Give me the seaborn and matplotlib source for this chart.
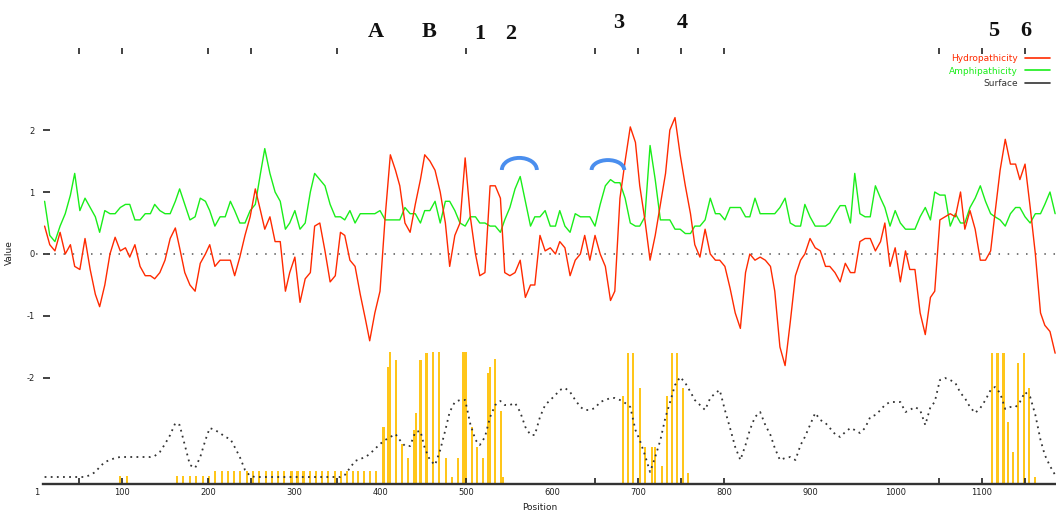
import numpy as np
import pandas as pd
import matplotlib
matplotlib.use("Agg")
import matplotlib.pyplot as plt
import matplotlib.transforms as mtransforms
import seaborn as sns
from matplotlib.lines import Line2D
from matplotlib.patches import Arc
from matplotlib.ticker import FixedLocator

# ---------------- data ----------------
residue = [10, 16, 22, 28, 34, 40, 45, 51, 57, 63,
           69, 74, 80, 86, 92, 98, 104, 109, 115, 121,
           127, 133, 138, 144, 150, 156, 162, 167, 173, 179,
           185, 191, 197, 202, 208, 214, 220, 226, 231, 237,
           243, 249, 255, 261, 266, 272, 278, 284, 290, 295,
           301, 307, 313, 319, 324, 330, 336, 342, 348, 354,
           359, 365, 371, 377, 383, 388, 394, 400, 406, 412,
           418, 423, 429, 435, 441, 447, 452, 458, 464, 470,
           476, 481, 487, 493, 499, 505, 511, 516, 522, 528,
           534, 540, 545, 551, 557, 563, 569, 575, 580, 586,
           592, 598, 604, 609, 615, 621, 627, 633, 638, 644,
           650, 656, 662, 668, 673, 679, 685, 691, 697, 702,
           708, 714, 720, 726, 732, 737, 743, 749, 755, 761,
           766, 772, 778, 784, 790, 795, 801, 807, 813, 819,
           825, 830, 836, 842, 848, 854, 859, 865, 871, 877,
           883, 889, 894, 900, 906, 912, 918, 923, 929, 935,
           941, 947, 952, 958, 964, 970, 976, 982, 987, 993,
           999, 1005, 1011, 1016, 1022, 1028, 1034, 1040, 1045, 1051,
           1057, 1063, 1069, 1075, 1080, 1086, 1092, 1098, 1104, 1110,
           1115, 1121, 1127, 1133, 1139, 1144, 1150, 1156, 1162, 1168,
           1173, 1179, 1185]

hydropathicity = [0.45, 0.15, 0.05, 0.35, 0.0, 0.15, -0.2, -0.25, 0.25, -0.25,
                  -0.65, -0.85, -0.5, 0.0, 0.27, 0.05, 0.1, -0.05, 0.15, -0.2,
                  -0.35, -0.35, -0.4, -0.3, -0.1, 0.25, 0.42, 0.1, -0.3, -0.5,
                  -0.6, -0.15, 0.0, 0.15, -0.2, -0.1, -0.1, -0.1, -0.35, -0.05,
                  0.3, 0.6, 1.05, 0.7, 0.4, 0.6, 0.2, 0.2, -0.6, -0.3,
                  -0.05, -0.78, -0.4, -0.3, 0.45, 0.5, 0.05, -0.45, -0.35, 0.35,
                  0.3, -0.1, -0.2, -0.65, -1.05, -1.4, -0.95, -0.6, 0.6, 1.6,
                  1.35, 1.1, 0.5, 0.35, 0.8, 1.2, 1.6, 1.5, 1.35, 1.0,
                  0.5, -0.2, 0.3, 0.5, 1.55, 0.6, 0.0, -0.35, -0.3, 1.1,
                  1.1, 0.9, -0.3, -0.35, -0.3, -0.1, -0.7, -0.5, -0.5, 0.3,
                  0.05, 0.1, 0.0, 0.2, 0.1, -0.35, -0.1, 0.0, 0.3, -0.1,
                  0.3, 0.0, -0.2, -0.75, -0.6, 0.9, 1.5, 2.05, 1.8, 1.1,
                  0.55, -0.1, 0.3, 0.8, 1.3, 2.0, 2.2, 1.6, 1.1, 0.65,
                  0.15, -0.05, 0.4, 0.0, -0.1, -0.1, -0.2, -0.55, -0.95, -1.2,
                  -0.3, 0.0, -0.1, -0.05, -0.1, -0.2, -0.6, -1.5, -1.8, -1.1,
                  -0.35, -0.1, 0.0, 0.25, 0.1, 0.05, -0.2, -0.2, -0.3, -0.45,
                  -0.15, -0.3, -0.3, 0.2, 0.25, 0.25, 0.05, 0.2, 0.5, -0.2,
                  0.1, -0.45, 0.05, -0.25, -0.25, -0.95, -1.3, -0.7, -0.6, 0.55,
                  0.6, 0.65, 0.6, 1.0, 0.4, 0.7, 0.4, -0.1, -0.1, 0.05,
                  0.65, 1.35, 1.85, 1.45, 1.45, 1.2, 1.45, 0.75, 0.0, -0.95,
                  -1.15, -1.25, -1.6]

amphipathicity = [0.85, 0.3, 0.2, 0.45, 0.65, 0.95, 1.3, 0.7, 0.9, 0.75,
                  0.6, 0.35, 0.7, 0.65, 0.65, 0.75, 0.8, 0.8, 0.55, 0.55,
                  0.65, 0.65, 0.8, 0.7, 0.65, 0.65, 0.85, 1.05, 0.8, 0.55,
                  0.6, 0.9, 0.85, 0.7, 0.45, 0.6, 0.6, 0.85, 0.7, 0.5,
                  0.5, 0.7, 0.8, 1.3, 1.7, 1.3, 1.0, 0.85, 0.4, 0.5,
                  0.7, 0.4, 0.5, 1.0, 1.3, 1.2, 1.1, 0.8, 0.6, 0.6,
                  0.55, 0.7, 0.5, 0.65, 0.65, 0.65, 0.65, 0.7, 0.55, 0.55,
                  0.55, 0.55, 0.75, 0.65, 0.65, 0.5, 0.7, 0.7, 0.85, 0.5,
                  0.85, 0.85, 0.7, 0.5, 0.45, 0.6, 0.6, 0.5, 0.5, 0.45,
                  0.45, 0.35, 0.55, 0.75, 1.05, 1.25, 0.85, 0.45, 0.6, 0.6,
                  0.7, 0.45, 0.45, 0.7, 0.45, 0.35, 0.65, 0.6, 0.6, 0.6,
                  0.45, 0.8, 1.1, 1.2, 1.15, 1.15, 0.9, 0.5, 0.45, 0.45,
                  0.6, 1.75, 1.2, 0.55, 0.55, 0.55, 0.4, 0.4, 0.33, 0.33,
                  0.45, 0.45, 0.55, 0.9, 0.65, 0.65, 0.55, 0.75, 0.75, 0.75,
                  0.6, 0.6, 0.9, 0.65, 0.65, 0.65, 0.65, 0.75, 0.9, 0.5,
                  0.45, 0.45, 0.8, 0.6, 0.45, 0.45, 0.45, 0.5, 0.65, 0.78,
                  0.78, 0.5, 1.3, 0.65, 0.6, 0.6, 1.1, 0.9, 0.75, 0.45,
                  0.7, 0.5, 0.4, 0.4, 0.4, 0.6, 0.75, 0.55, 1.0, 0.95,
                  0.95, 0.45, 0.65, 0.5, 0.5, 0.75, 0.9, 1.1, 0.85, 0.65,
                  0.6, 0.55, 0.45, 0.65, 0.75, 0.75, 0.6, 0.5, 0.65, 0.65,
                  0.8, 1.0, 0.65]

surface = [0.7, 0.7, 0.7, 0.7, 0.7, 0.7, 0.7, 0.7, 0.7, 0.9,
           1.2, 1.7, 2.2, 2.4, 2.6, 2.7, 2.7, 2.7, 2.7, 2.7,
           2.7, 2.7, 2.8, 3.2, 4.0, 4.9, 6.1, 5.9, 3.9, 1.9,
           1.6, 2.7, 4.4, 5.6, 5.4, 5.1, 4.7, 4.5, 3.7, 2.7,
           1.4, 0.8, 0.7, 0.7, 0.7, 0.7, 0.7, 0.7, 0.7, 0.7,
           0.7, 0.7, 0.7, 0.7, 0.7, 0.7, 0.7, 0.7, 0.7, 0.7,
           0.9, 1.6, 2.3, 2.5, 2.7, 3.0, 3.5, 4.0, 4.4, 4.7,
           5.0, 4.4, 3.8, 3.8, 5.2, 5.3, 3.6, 2.4, 1.9, 3.4,
           5.4, 7.2, 8.2, 8.4, 8.4, 6.0, 4.4, 3.9, 4.7, 6.7,
           7.9, 8.3, 7.9, 7.9, 8.1, 7.2, 5.7, 4.9, 4.9, 6.7,
           7.9, 8.4, 8.9, 9.4, 9.6, 9.2, 8.4, 7.7, 7.4, 7.4,
           7.6, 8.2, 8.4, 8.6, 8.6, 8.4, 8.1, 7.7, 5.4, 4.4,
           2.9, 1.2, 2.7, 4.4, 6.7, 8.1, 9.9, 10.7, 10.1, 9.2,
           8.4, 7.9, 7.4, 8.6, 9.1, 9.4, 7.4, 5.6, 3.7, 2.4,
           3.9, 5.4, 6.7, 7.2, 5.9, 4.9, 3.6, 2.4, 2.6, 2.7,
           2.4, 3.9, 4.7, 5.9, 7.1, 6.4, 6.1, 5.6, 5.0, 4.7,
           5.2, 5.6, 5.4, 5.1, 5.6, 6.7, 6.9, 7.4, 7.9, 8.2,
           8.2, 8.2, 7.2, 7.4, 7.7, 7.4, 5.9, 7.7, 8.2, 10.4,
           10.6, 10.4, 10.1, 9.1, 8.6, 7.7, 7.1, 7.6, 8.4, 9.4,
           9.7, 9.1, 7.5, 7.7, 7.7, 8.2, 9.2, 8.7, 6.9, 4.4,
           2.9, 1.8, 0.9]

antigenic_pos = [98, 106, 164, 171, 179, 186, 194, 201,
                 208, 216, 223, 230, 237, 245, 252, 259, 267, 274, 281, 288, 297, 304,
                 311, 319, 326, 333, 340, 348, 355, 362, 369, 374, 381, 388, 395,
                 404, 409, 412, 419, 426, 433, 440, 442, 447, 454, 455, 462, 469,
                 477, 484, 491, 497, 500, 507, 513, 520, 526, 528, 534, 541, 543,
                 683, 688, 694, 702, 708, 716, 720, 728, 734, 740, 745, 752, 758,
                 1112, 1118, 1125, 1130, 1136, 1142, 1149, 1155, 1162]
antigenic_val = [0.06, 0.06, 0.06, 0.06, 0.06, 0.06, 0.06, 0.06,
                 0.10, 0.10, 0.10, 0.10, 0.10, 0.10, 0.10, 0.10, 0.10, 0.10, 0.10, 0.10, 0.10, 0.10,
                 0.10, 0.10, 0.10, 0.10, 0.10, 0.10, 0.10, 0.10, 0.10, 0.10, 0.10, 0.10, 0.10,
                 0.43, 0.89, 1.0, 0.94, 0.30, 0.20, 0.41, 0.54, 0.94, 0.99, 0.86, 1.0, 1.0,
                 0.20, 0.05, 0.20, 1.0, 1.0, 0.43, 0.28, 0.20, 0.84, 0.89, 0.95, 0.55, 0.05,
                 0.67, 0.99, 0.99, 0.73, 0.28, 0.28, 0.28, 0.14, 0.67, 0.99, 0.99, 0.73, 0.08,
                 0.99, 0.99, 0.99, 0.47, 0.24, 0.92, 0.99, 0.73, 0.05]

series_names = ["Hydropathicity", "Amphipathicity", "Surface"]
x_tick_pos = [1, 100, 200, 300, 400, 500, 600, 700, 800, 900, 1000, 1100]
x_tick_labels = ["1", "100", "200", "300", "400", "500", "600", "700", "800", "900", "1000", "1100"]
x_minor_ticks = [50, 100, 200, 250, 350, 500, 650, 700, 750, 800, 1050, 1100, 1150]
y_tick_pos = [-2, -1, 0, 1, 2]
y_tick_labels = ["-2", "-1", "0", "1", "2"]
site_labels = ["A", "B", "1", "2", "3", "4", "5", "6"]
site_pos = [395, 457, 516, 552, 678, 751, 1114, 1151]

assert len(residue) == len(hydropathicity) == len(amphipathicity) == len(surface)
assert len(antigenic_pos) == len(antigenic_val)

df = pd.DataFrame({"residue": residue,
                   series_names[0]: hydropathicity,
                   series_names[1]: amphipathicity,
                   series_names[2]: surface})

# ---------------- style ----------------
sns.set_style("white")
plt.rcParams["font.family"] = ["DejaVu Sans"]

RED = "#FF2A00"
GREEN = "#1AEE1A"
DARK = "#333333"
GOLD = "#FFC61A"
BLUE = "#4A8EEE"

W, H = 1056, 512
fig = plt.figure(figsize=(W / 100, H / 100), dpi=100)
fig.patch.set_facecolor("white")

ax_low = fig.add_axes([36 / W, 28 / H, 1020 / W, 132 / H])
ax_surf = ax_low.twinx()
ax = fig.add_axes([36 / W, 28 / H, 1020 / W, 436 / H], sharex=ax_low)
ax.set_zorder(5)
ax.patch.set_visible(False)

# lower panel: bars + surface line
ax_low.bar(antigenic_pos, antigenic_val, width=2.5, color=GOLD, linewidth=0)
ax_low.set_ylim(0, 1)
ax_low.axis("off")
sns.lineplot(data=df, x="residue", y=series_names[2], ax=ax_surf, color=DARK,
             linewidth=1.3, linestyle=(0, (1, 2.4)), legend=False)
ax_surf.set_ylim(0, 13.2)
ax_surf.axis("off")

# upper panel
ax.axhline(0, color="#555555", linewidth=1.1, linestyle=(0, (1, 5)), zorder=1)
sns.lineplot(data=df, x="residue", y=series_names[1], ax=ax, color=GREEN,
             linewidth=1.0, legend=False, zorder=2)
sns.lineplot(data=df, x="residue", y=series_names[0], ax=ax, color=RED,
             linewidth=1.0, legend=False, zorder=3)

# annotation arcs
ax.add_patch(Arc((562, 1.355), 40.7, 0.39, theta1=0, theta2=180,
                 color=BLUE, linewidth=2.8, zorder=6))
ax.add_patch(Arc((665, 1.355), 38, 0.32, theta1=0, theta2=180,
                 color=BLUE, linewidth=2.8, zorder=6))

ax.set_xlim(0, 1186)
ax.set_ylim(-3.7097, 3.3226)

for s in ["left", "right", "top"]:
    ax.spines[s].set_visible(False)
ax.spines["left"].set_position(("data", 8))
ax.spines["bottom"].set_visible(True)
ax.spines["bottom"].set_linewidth(1.7)
ax.spines["bottom"].set_color(DARK)
ax.spines["bottom"].set_bounds(8, 1186)

ax.xaxis.remove_overlapping_locs = False
ax.xaxis.set_major_locator(FixedLocator(x_tick_pos))
ax.set_xticklabels(x_tick_labels)
ax.xaxis.set_minor_locator(FixedLocator(x_minor_ticks))
ax.tick_params(axis="x", which="major", length=0, labelsize=6, pad=3, colors="#222222",
               top=False, bottom=True)
ax.tick_params(axis="x", which="minor", direction="in", length=4, width=1.2,
               color="#222222", top=True, bottom=True)
ax.set_yticks(y_tick_pos)
ax.set_yticklabels(y_tick_labels)
ax.tick_params(axis="y", direction="in", length=5, width=1.2, labelsize=6, pad=6,
               colors="#222222", left=True, right=False)

ax.set_xlabel("Position", fontsize=6.5, color="#222222")
ax.xaxis.set_label_coords(0.494, -0.044)
ax.set_ylabel("Value", fontsize=6.5, color="#222222")
ax.yaxis.set_label_coords(-0.0216, 0.53)

# site labels above the plot
trans = mtransforms.blended_transform_factory(ax.transData, ax.transAxes)
site_y = [1.036, 1.036, 1.032, 1.032, 1.058, 1.058, 1.039, 1.039]
for lab, pos, yy in zip(site_labels, site_pos, site_y):
    ax.text(pos, yy, lab, transform=trans, ha="center", va="center",
            fontsize=16, fontweight="bold", family=["Liberation Serif", "DejaVu Serif"],
            color="#111111", clip_on=False)

# legend
handles = [Line2D([], [], color=RED, linewidth=1.2),
           Line2D([], [], color=GREEN, linewidth=1.2),
           Line2D([], [], color=DARK, linewidth=1.2)]
fig.legend(handles, series_names, loc="upper left",
           bbox_to_anchor=(949 / W, 1 - 54 / H), frameon=False, fontsize=6.5,
           markerfirst=False, handlelength=2.8, handletextpad=0.8,
           labelspacing=0.4, borderpad=0, borderaxespad=0,
           labelcolor=[RED, GREEN, DARK])

fig.savefig("out.png", dpi=100)
